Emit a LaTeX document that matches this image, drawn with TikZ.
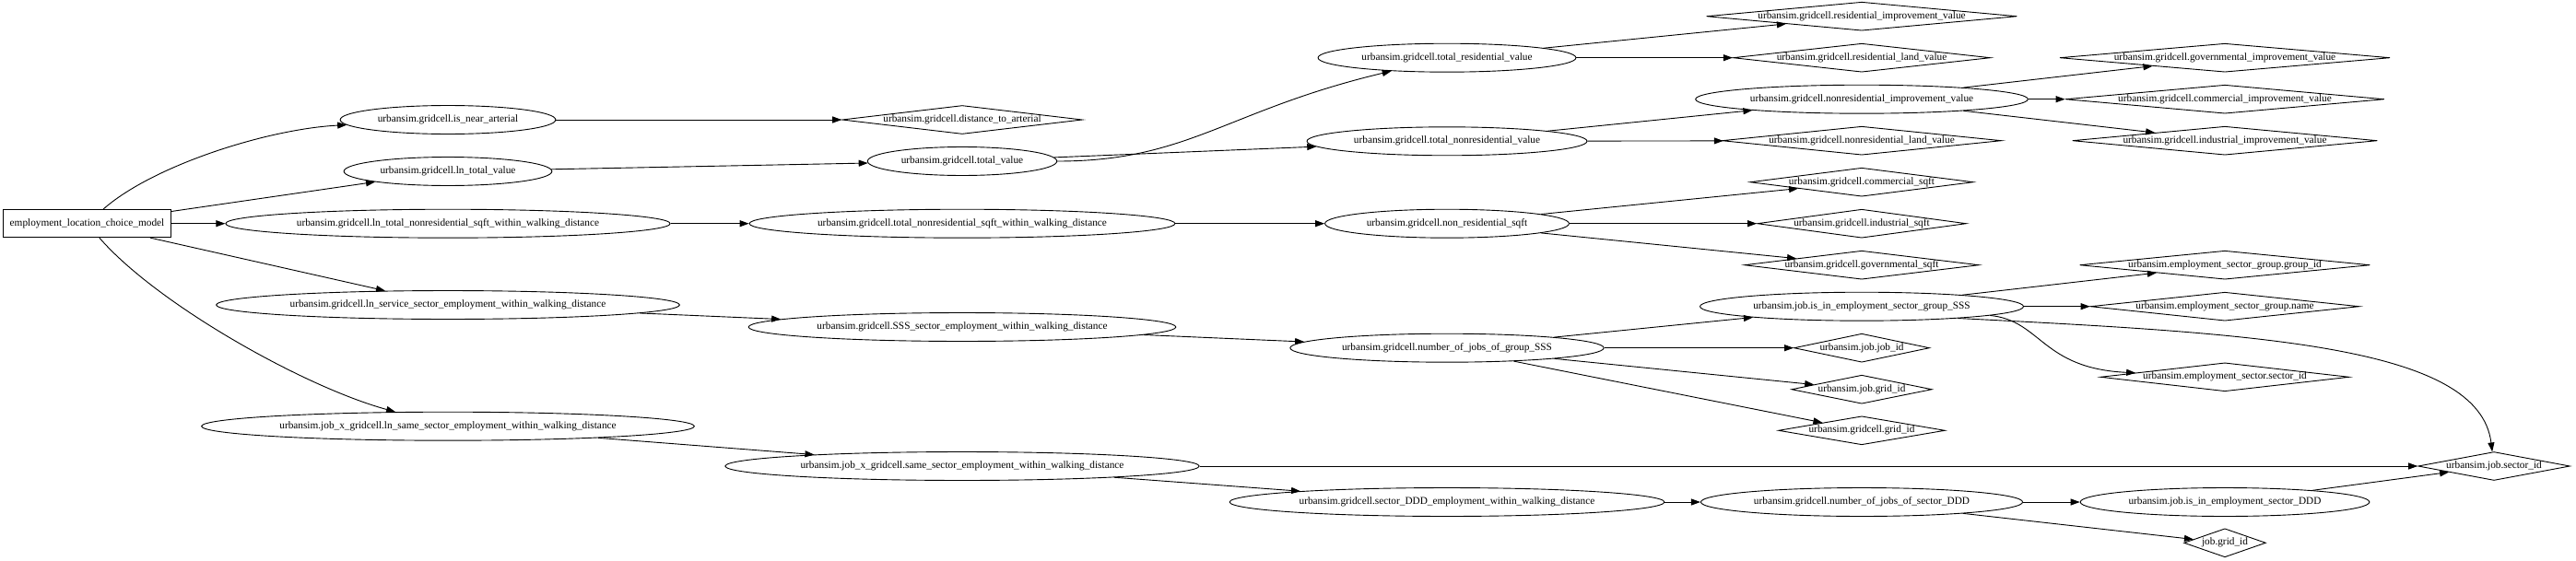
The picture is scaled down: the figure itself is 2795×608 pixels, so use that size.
\documentclass[tikz,border=0pt]{standalone}
\usepackage{fontspec}
\setmainfont{Liberation Serif}
\usepackage{tikz}
\usetikzlibrary{shapes.geometric,arrows.meta}

\tikzset{
  model/.style={draw, rectangle, inner xsep=7pt, minimum height=30pt},
  var/.style={draw, ellipse, inner sep=6.4pt, text height=7pt, text depth=2.1pt},
  attr/.style={draw, diamond, inner xsep=6.4pt, inner ysep=0pt, text height=7pt, text depth=2.1pt},
}

\begin{document}
\begin{tikzpicture}[x=1pt, y=-1pt, line width=0.9pt, >={Triangle[length=10pt,width=7pt]},
    font=\fontsize{11.3}{13}\selectfont]
    \useasboundingbox (0,0) rectangle (2795,608);

    % Model
    \node[model] (elcm) at (94.5,242.7) {employment\_location\_choice\_model};

    % Variables used by the model
    \node[var] (isnear) at (486,130) {urbansim.gridcell.is\_near\_arterial};
    \node[var] (lntv) at (486,186) {urbansim.gridcell.ln\_total\_value};
    \node[var] (lntns) at (486,242.7) {urbansim.gridcell.ln\_total\_nonresidential\_sqft\_within\_walking\_distance};
    \node[var] (lnsse) at (486,331) {urbansim.gridcell.ln\_service\_sector\_employment\_within\_walking\_distance};
    \node[var] (lnsame) at (486,462.7) {urbansim.job\_x\_gridcell.ln\_same\_sector\_employment\_within\_walking\_distance};

    % Second level
    \node[attr, aspect=8.41] (dist) at (1044,130) {urbansim.gridcell.distance\_to\_arterial};
    \node[var] (tv) at (1044,175) {urbansim.gridcell.total\_value};
    \node[var] (tns) at (1044,242.7) {urbansim.gridcell.total\_nonresidential\_sqft\_within\_walking\_distance};
    \node[var] (ssse) at (1044,355) {urbansim.gridcell.SSS\_sector\_employment\_within\_walking\_distance};
    \node[var] (same) at (1044,506) {urbansim.job\_x\_gridcell.same\_sector\_employment\_within\_walking\_distance};

    % Third level
    \node[var] (trv) at (1570,62.7) {urbansim.gridcell.total\_residential\_value};
    \node[var] (tnrv) at (1570,153.3) {urbansim.gridcell.total\_nonresidential\_value};
    \node[var] (nrs) at (1570,242.7) {urbansim.gridcell.non\_residential\_sqft};
    \node[var] (njg) at (1570,377.7) {urbansim.gridcell.number\_of\_jobs\_of\_group\_SSS};
    \node[var] (sddd) at (1570,545) {urbansim.gridcell.sector\_DDD\_employment\_within\_walking\_distance};

    % Fourth level
    \node[attr, aspect=10.87] (rimp) at (2020,17.7) {urbansim.gridcell.residential\_improvement\_value};
    \node[attr, aspect=9.01] (rland) at (2020,62.7) {urbansim.gridcell.residential\_land\_value};
    \node[var] (nrimp) at (2020,107.7) {urbansim.gridcell.nonresidential\_improvement\_value};
    \node[attr, aspect=9.79] (nrland) at (2020,152.7) {urbansim.gridcell.nonresidential\_land\_value};
    \node[attr, aspect=7.81] (csqft) at (2020,197.7) {urbansim.gridcell.commercial\_sqft};
    \node[attr, aspect=7.32] (isqft) at (2020,242.7) {urbansim.gridcell.industrial\_sqft};
    \node[attr, aspect=8.21] (gsqft) at (2020,287.7) {urbansim.gridcell.governmental\_sqft};
    \node[var] (ingrp) at (2020,332.7) {urbansim.job.is\_in\_employment\_sector\_group\_SSS};
    \node[attr, aspect=4.74] (jobid) at (2020,377.7) {urbansim.job.job\_id};
    \node[attr, aspect=4.91] (jgrid) at (2020,422.7) {urbansim.job.grid\_id};
    \node[attr, aspect=5.83] (ggrid) at (2020,467.3) {urbansim.gridcell.grid\_id};
    \node[var] (njd) at (2020,545) {urbansim.gridcell.number\_of\_jobs\_of\_sector\_DDD};

    % Fifth level
    \node[attr, aspect=11.56] (gimp) at (2414,62.7) {urbansim.gridcell.governmental\_improvement\_value};
    \node[attr, aspect=11.16] (cimp) at (2414,107.7) {urbansim.gridcell.commercial\_improvement\_value};
    \node[attr, aspect=10.68] (iimp) at (2414,152.7) {urbansim.gridcell.industrial\_improvement\_value};
    \node[attr, aspect=10.16] (gid) at (2414,287.7) {urbansim.employment\_sector\_group.group\_id};
    \node[attr, aspect=9.41] (gname) at (2414,332.7) {urbansim.employment\_sector\_group.name};
    \node[attr, aspect=8.73] (secid) at (2414,409.3) {urbansim.employment\_sector.sector\_id};
    \node[var] (indd) at (2414,545) {urbansim.job.is\_in\_employment\_sector\_DDD};
    \node[attr, aspect=2.86] (jg2) at (2414,589.3) {job.grid\_id};

    \node[attr, aspect=5.32] (jsec) at (2706,506) {urbansim.job.sector\_id};

    % Model dependencies
    \draw[->] (elcm) .. controls (165,180) and (290,140) .. (isnear);
    \draw[->] (elcm) -- (lntv);
    \draw[->] (elcm) -- (lntns);
    \draw[->] (elcm) -- (lnsse);
    \draw[->] (elcm) .. controls (170,330) and (330,420) .. (lnsame);

    \draw[->] (isnear) -- (dist);
    \draw[->] (lntv) -- (tv);
    \draw[->] (lntns) -- (tns);
    \draw[->] (lnsse) -- (ssse);
    \draw[->] (lnsame) -- (same);

    % Values
    \draw[->] (tv) .. controls (1290,175) and (1330,120) .. (trv);
    \draw[->] (tv) -- (tnrv);
    \draw[->] (trv) -- (rimp);
    \draw[->] (trv) -- (rland);
    \draw[->] (tnrv) -- (nrimp);
    \draw[->] (tnrv) -- (nrland);
    \draw[->] (nrimp) -- (gimp);
    \draw[->] (nrimp) -- (cimp);
    \draw[->] (nrimp) -- (iimp);

    % Square feet
    \draw[->] (tns) -- (nrs);
    \draw[->] (nrs) -- (csqft);
    \draw[->] (nrs) -- (isqft);
    \draw[->] (nrs) -- (gsqft);

    % Sector groups
    \draw[->] (ssse) -- (njg);
    \draw[->] (njg) -- (ingrp);
    \draw[->] (njg) -- (jobid);
    \draw[->] (njg) -- (jgrid);
    \draw[->] (njg) -- (ggrid);
    \draw[->] (ingrp) -- (gid);
    \draw[->] (ingrp) -- (gname);
    \draw[->] (ingrp.-4) .. controls (2215,348) and (2215,400) .. (secid);
    \draw[->] (ingrp.-7) .. controls (2450,362) and (2690,375) .. (jsec);

    % Same sector
    \draw[->] (same) -- (jsec);
    \draw[->] (same) -- (sddd);
    \draw[->] (sddd) -- (njd);
    \draw[->] (njd) -- (indd);
    \draw[->] (njd) -- (jg2);
    \draw[->] (indd) -- (jsec);
\end{tikzpicture}
\end{document}
